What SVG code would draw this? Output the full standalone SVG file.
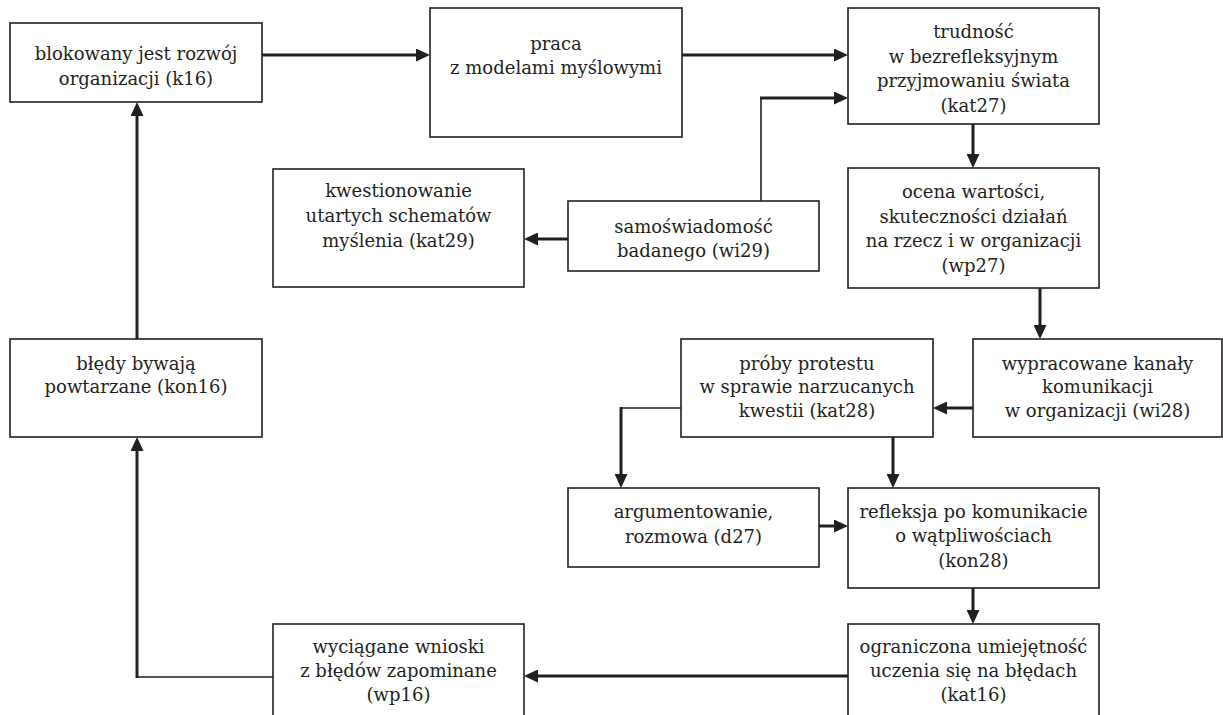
<svg xmlns="http://www.w3.org/2000/svg" width="1223" height="715" viewBox="0 0 1223 715">
<style>
.box{fill:#fff;stroke:#231f20;stroke-width:1.6}
.t{font-family:"DejaVu Serif","Liberation Serif",serif;font-size:18px;fill:#231f20;text-anchor:middle}
.thick{fill:none;stroke:#231f20;stroke-width:3}
.thin{fill:none;stroke:#231f20;stroke-width:1.6}
</style>
<defs>
<marker id="ah" viewBox="0 0 14 13" refX="8" refY="6.5" markerWidth="14" markerHeight="13" markerUnits="userSpaceOnUse" orient="auto">
<path d="M0,0 L14,6.5 L0,13 Z" fill="#231f20"/>
</marker>
</defs>
<rect width="1223" height="715" fill="#fff"/>
<g id="connectors">
<path class="thick" d="M262,55 H424" marker-end="url(#ah)"/>
<path class="thick" d="M682,55 H842" marker-end="url(#ah)"/>
<path class="thin" d="M761,201 V98"/>
<path class="thick" d="M760,98 H842" marker-end="url(#ah)"/>
<path class="thick" d="M568,239 H530" marker-end="url(#ah)"/>
<path class="thick" d="M973,124 V162" marker-end="url(#ah)"/>
<path class="thick" d="M1040,288 V333" marker-end="url(#ah)"/>
<path class="thick" d="M973,408 H939" marker-end="url(#ah)"/>
<path class="thin" d="M681,408 H621"/>
<path class="thick" d="M621,407 V482" marker-end="url(#ah)"/>
<path class="thick" d="M893,437 V482" marker-end="url(#ah)"/>
<path class="thick" d="M819,526 H842" marker-end="url(#ah)"/>
<path class="thick" d="M973,588 V618" marker-end="url(#ah)"/>
<path class="thick" d="M848,676 H530" marker-end="url(#ah)"/>
<path class="thin" d="M273,677 H137"/>
<path class="thick" d="M137,678 V443" marker-end="url(#ah)"/>
<path class="thick" d="M137,339 V108" marker-end="url(#ah)"/>
</g>
<g id="n-blokowany">
<rect class="box" x="10" y="23" width="252" height="79"/>
<text class="t" x="136" y="60">blokowany jest rozwój</text>
<text class="t" x="136" y="85">organizacji (k16)</text>
</g>
<g id="n-praca">
<rect class="box" x="430" y="8" width="252" height="129"/>
<text class="t" x="556" y="50">praca</text>
<text class="t" x="556" y="74">z modelami myślowymi</text>
</g>
<g id="n-trudnosc">
<rect class="box" x="848" y="8" width="251" height="116"/>
<text class="t" x="973.5" y="38">trudność</text>
<text class="t" x="973.5" y="63">w bezrefleksyjnym</text>
<text class="t" x="973.5" y="87">przyjmowaniu świata</text>
<text class="t" x="973.5" y="112">(kat27)</text>
</g>
<g id="n-ocena">
<rect class="box" x="848" y="168" width="251" height="120"/>
<text class="t" x="973.5" y="198">ocena wartości,</text>
<text class="t" x="973.5" y="223">skuteczności działań</text>
<text class="t" x="973.5" y="247">na rzecz i w organizacji</text>
<text class="t" x="973.5" y="272">(wp27)</text>
</g>
<g id="n-kwestionowanie">
<rect class="box" x="273" y="169" width="251" height="118"/>
<text class="t" x="398.5" y="197">kwestionowanie</text>
<text class="t" x="398.5" y="222">utartych schematów</text>
<text class="t" x="398.5" y="247">myślenia (kat29)</text>
</g>
<g id="n-samoswiadomosc">
<rect class="box" x="568" y="201" width="251" height="70"/>
<text class="t" x="693.5" y="233">samoświadomość</text>
<text class="t" x="693.5" y="257">badanego (wi29)</text>
</g>
<g id="n-bledy">
<rect class="box" x="10" y="339" width="252" height="98"/>
<text class="t" x="136" y="370">błędy bywają</text>
<text class="t" x="136" y="393">powtarzane (kon16)</text>
</g>
<g id="n-proby">
<rect class="box" x="681" y="339" width="252" height="98"/>
<text class="t" x="807" y="370">próby protestu</text>
<text class="t" x="807" y="393">w sprawie narzucanych</text>
<text class="t" x="807" y="417">kwestii (kat28)</text>
</g>
<g id="n-wypracowane">
<rect class="box" x="973" y="339" width="249" height="98"/>
<text class="t" x="1097.5" y="370">wypracowane kanały</text>
<text class="t" x="1097.5" y="393">komunikacji</text>
<text class="t" x="1097.5" y="417">w organizacji (wi28)</text>
</g>
<g id="n-argumentowanie">
<rect class="box" x="568" y="488" width="251" height="79"/>
<text class="t" x="693.5" y="518">argumentowanie,</text>
<text class="t" x="693.5" y="543">rozmowa (d27)</text>
</g>
<g id="n-refleksja">
<rect class="box" x="848" y="488" width="251" height="100"/>
<text class="t" x="973.5" y="518">refleksja po komunikacie</text>
<text class="t" x="973.5" y="542">o wątpliwościach</text>
<text class="t" x="973.5" y="567">(kon28)</text>
</g>
<g id="n-ograniczona">
<rect class="box" x="848" y="624" width="251" height="100"/>
<text class="t" x="973.5" y="653">ograniczona umiejętność</text>
<text class="t" x="973.5" y="677">uczenia się na błędach</text>
<text class="t" x="973.5" y="701">(kat16)</text>
</g>
<g id="n-wyciagane">
<rect class="box" x="273" y="624" width="251" height="100"/>
<text class="t" x="398.5" y="653">wyciągane wnioski</text>
<text class="t" x="398.5" y="677">z błędów zapominane</text>
<text class="t" x="398.5" y="701">(wp16)</text>
</g>
</svg>
